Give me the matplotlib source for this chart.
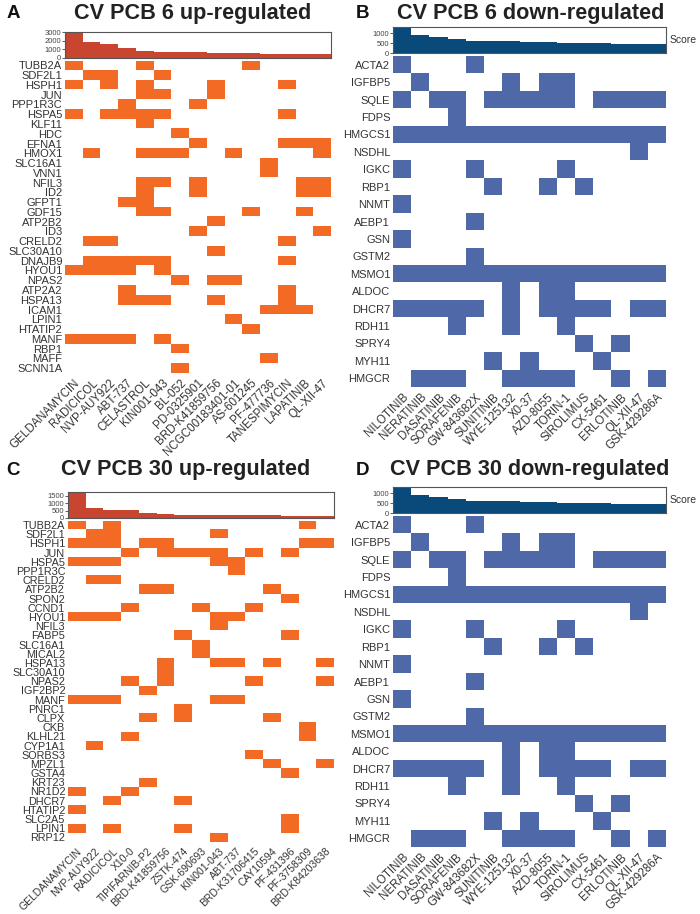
import matplotlib
matplotlib.use('Agg')
import matplotlib.pyplot as plt
import numpy as np
from matplotlib.colors import ListedColormap

plt.rcParams['font.family'] = ['Liberation Sans', 'DejaVu Sans']

# ---------------- data ----------------
a_drugs = ["GELDANAMYCIN", "RADICICOL", "NVP-AUY922", "ABT-737", "CELASTROL", "KIN001-043",
           "BL-052", "PD-0325901", "BRD-K41859756", "NCGC00183401-01", "AS-601245",
           "PF-477736", "TANESPIMYCIN", "LAPATINIB", "QL-XII-47"]
a_scores = [2980, 1800, 1560, 1100, 720, 680, 640, 600, 520, 480, 480, 460, 450, 450, 440]
a_genes = ["TUBB2A", "SDF2L1", "HSPH1", "JUN", "PPP1R3C", "HSPA5", "KLF11", "HDC", "EFNA1",
           "HMOX1", "SLC16A1", "VNN1", "NFIL3", "ID2", "GFPT1", "GDF15", "ATP2B2", "ID3",
           "CRELD2", "SLC30A10", "DNAJB9", "HYOU1", "NPAS2", "ATP2A2", "HSPA13", "ICAM1",
           "LPIN1", "HTATIP2", "MANF", "RBP1", "MAFF", "SCNN1A"]
a_hits = ["100010000010000", "011001000000000", "101010001000100", "000011001000000",
          "000100010000000", "101111000000100", "000010000000000", "000000100000000",
          "000000010000111", "010011100100001", "000000000001000", "000000000001000",
          "000011010000011", "000010010000011", "000110000000000", "000011000010010",
          "000000001000000", "000000010000001", "011000000000100", "000000001000000",
          "011111000000100", "111101000000000", "000000101100000", "000100000000100",
          "000111001000100", "000000000001110", "000000000100000", "000000000010000",
          "111101000000000", "000000100000000", "000000000001000", "000000100000000"]

b_drugs = ["NILOTINIB", "NERATINIB", "DASATINIB", "SORAFENIB", "GW-843682X", "SUNITINIB",
           "WYE-125132", "X0-37", "AZD-8055", "TORIN-1", "SIROLIMUS", "CX-5461",
           "ERLOTINIB", "QL-XII-47", "GSK-429286A"]
b_scores = [1240, 900, 820, 700, 630, 610, 590, 560, 550, 530, 500, 500, 480, 460, 440]
b_genes = ["ACTA2", "IGFBP5", "SQLE", "FDPS", "HMGCS1", "NSDHL", "IGKC", "RBP1", "NNMT",
           "AEBP1", "GSN", "GSTM2", "MSMO1", "ALDOC", "DHCR7", "RDH11", "SPRY4", "MYH11", "HMGCR"]
b_hits = ["100010000000000", "010000101100000", "101101111101111", "000100000000000",
          "111111111111111", "000000000000010", "100010000100000", "000001001010000",
          "100000000000000", "000010000000000", "100000000000000", "000010000000000",
          "111111111111111", "000000101100000", "111110101111011", "000100100100000",
          "000000000010100", "000001010001000", "011100111100101"]

c_drugs = ["GELDANAMYCIN", "NVP-AUY922", "RADICICOL", "X10-0", "TIPIFARNIB-P2",
           "BRD-K41859756", "ZSTK-474", "GSK-690693", "KIN001-043", "ABT-737",
           "BRD-K31706415", "CAY10594", "PF-431396", "PF-3758309", "BRD-K84203638"]
c_scores = [1750, 640, 570, 560, 370, 270, 220, 210, 195, 190, 180, 170, 160, 150, 150]
c_genes = ["TUBB2A", "SDF2L1", "HSPH1", "JUN", "HSPA5", "PPP1R3C", "CRELD2", "ATP2B2",
           "SPON2", "CCND1", "HYOU1", "NFIL3", "FABP5", "SLC16A1", "MICAL2", "HSPA13",
           "SLC30A10", "NPAS2", "IGF2BP2", "MANF", "PNRC1", "CLPX", "CKB", "KLHL21",
           "CYP1A1", "SORBS3", "MPZL1", "GSTA4", "KRT23", "NR1D2", "DHCR7", "HTATIP2",
           "SLC2A5", "LPIN1", "RRP12"]
c_hits = ["101000000000010", "011000001000000", "111011000000011", "000101111010100",
          "111000001100000", "000000000100000", "011000000000000", "000011000001000",
          "000000000000100", "000100010010000", "111000001100000", "000000001000000",
          "000000100000100", "000000010000000", "000000010000000", "000001001101001",
          "000001000000000", "000101000010001", "000010000000000", "111000001100000",
          "000000100000000", "000010100001000", "000000000000010", "000100000000010",
          "010000000000000", "000000000010000", "000000000001001", "000000000000100",
          "000010000000000", "100100000000000", "001000100000000", "100000000000000",
          "000000000000100", "101000100000100", "000000001000000"]

d_drugs = list(b_drugs)
d_scores = list(b_scores)
d_genes = list(b_genes)
d_hits = list(b_hits)

# ---------------- drawing ----------------
W, H = 700, 914
fig = plt.figure(figsize=(7, 9.14), dpi=100)

UP_CELL = "#F26A24"
UP_BAR = "#C84630"
DN_CELL = "#4F68A8"
DN_BAR = "#0A4A7A"


def px_axes(x0, y0, x1, y1):
    return fig.add_axes([x0 / W, 1 - y1 / H, (x1 - x0) / W, (y1 - y0) / H])


def draw_panel(bar_box, mat_box, drugs, genes, hits, scores, ylim, yticks,
               bar_color, cell_color, score_label, xfs=8.3, yfs=8):
    n = len(drugs)
    x = np.arange(n)
    axb = px_axes(*bar_box)
    axb.bar(x, scores, width=1.0, color=bar_color, linewidth=0)
    axb.set_xlim(-0.5, n - 0.5)
    axb.set_ylim(0, ylim)
    axb.set_yticks(yticks)
    axb.set_xticks([])
    axb.tick_params(axis='y', labelsize=5.5, length=2, width=0.6, pad=1,
                    colors='#444444')
    for s in axb.spines.values():
        s.set_color('#555555')
        s.set_linewidth(0.8)
    if score_label:
        axb.text(1.012, 0.5, "Score", transform=axb.transAxes, fontsize=7.5,
                 color='#333333', va='center', ha='left')

    axm = px_axes(*mat_box)
    M = np.array([[int(ch) for ch in r] for r in hits])
    axm.imshow(M, cmap=ListedColormap(['white', cell_color]), vmin=0, vmax=1,
               aspect='auto', interpolation='nearest')
    axm.set_xticks(x)
    axm.set_xticklabels(drugs, rotation=45, ha='right', rotation_mode='anchor',
                        fontsize=xfs, color='#333333')
    axm.set_yticks(np.arange(len(genes)))
    axm.set_yticklabels(genes, fontsize=yfs, color='#333333')
    axm.tick_params(axis='both', length=0)
    axm.tick_params(axis='y', pad=2)
    axm.tick_params(axis='x', pad=3)
    for s in axm.spines.values():
        s.set_visible(False)


draw_panel((65, 32.3, 331, 57.5), (65, 60.5, 331, 373), a_drugs, a_genes, a_hits,
           a_scores, 3000, [0, 1000, 2000, 3000], UP_BAR, UP_CELL, False)
draw_panel((393, 27.3, 666, 53.3), (393, 56, 666, 387), b_drugs, b_genes, b_hits,
           b_scores, 1300, [0, 500, 1000], DN_BAR, DN_CELL, True)
draw_panel((68, 492, 334, 518), (68, 520.5, 334, 842), c_drugs, c_genes, c_hits,
           c_scores, 1750, [0, 500, 1000, 1500], UP_BAR, UP_CELL, False,
           xfs=7.5, yfs=7.8)
draw_panel((393, 487.3, 666, 513.3), (393, 516, 666, 847), d_drugs, d_genes, d_hits,
           d_scores, 1300, [0, 500, 1000], DN_BAR, DN_CELL, True)

titles = [("A", 7, 18.5, "CV PCB 6 up-regulated", 193, 19.5),
          ("B", 356, 17.5, "CV PCB 6 down-regulated", 531, 19.5),
          ("C", 6, 474.5, "CV PCB 30 up-regulated", 186, 475),
          ("D", 356, 474.5, "CV PCB 30 down-regulated", 530, 475)]
for letter, lx, ly, title, tx, ty in titles:
    fig.text(lx / W, 1 - ly / H, letter, fontsize=13.5, fontweight='bold',
             ha='left', va='baseline', color='#111111')
    fig.text(tx / W, 1 - ty / H, title, fontsize=15.6, fontweight='bold',
             ha='center', va='baseline', color='#222222')

fig.savefig("out.png", dpi=100)
